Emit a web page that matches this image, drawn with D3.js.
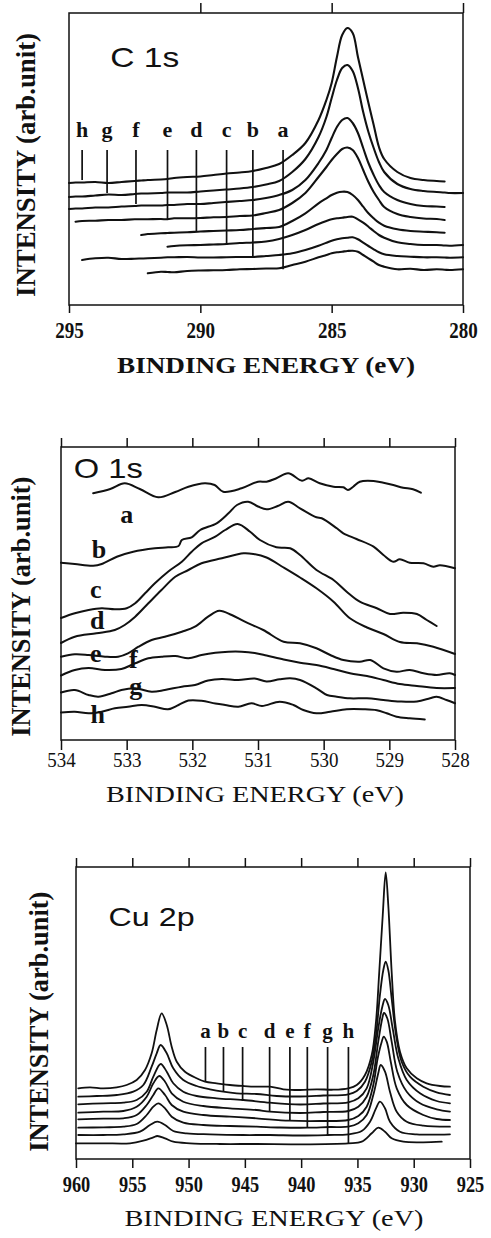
<!DOCTYPE html>
<html>
<head>
<meta charset="utf-8">
<script src="https://cdn.jsdelivr.net/npm/d3@7"></script>
<style>
  html, body { margin: 0; padding: 0; background: #fff; }
  svg { display: block; }
</style>
</head>
<body>
<svg id="fig" width="491" height="1238"></svg>
<script>
// ---------------- C 1s spectra (binding energy in eV, intensity in arb. units) ----------------
const c1sTicks = [295, 290, 285, 280];
const c1sEnergy = [295, 294.75, 294.5, 294, 293.5, 293, 292.5, 292.25, 292, 291.5, 291.25, 291, 290.5, 290,
  289.5, 289, 288.5, 288, 287.5, 287, 286.5, 286, 285.5, 285.2, 285, 284.8, 284.6, 284.4, 284.2, 284,
  283.8, 283.6, 283.4, 283.2, 283, 282.5, 282, 281.5, 281, 280.7, 280.5, 280];
const c1sA = [null, null, null, null, null, null, null, null, 31.7, 33.3, 33, 32.7, 34, 34.5, 34.7, 35, 35.7, 36, 36.5, 36.7,
  40, 43.3, 47.7, 50, 51.7, 52.7, 53.3, 54, 54.3, 53.3, 50, 46.7, 43.3, 40, 38.3, 35.7, 36.3, 35, 35.7, 35.3, 35, 35.7];
const c1sB = [null, null, 45, 46.7, 47.3, 46, 46.3, 46.5, 46.7, 47.3, 47.7, 47.7, 48, 47.5, 47.5, 47.8, 48, 48, 49, 50,
  51.7, 55, 59.3, 62.3, 64.3, 65.7, 66.7, 67.3, 67.7, 65.7, 62.3, 59, 55.7, 52.7, 50.7, 49, 48.3, 47.7, 47.7, 47.5, 47.3, 47.7];
const c1sC = [null, null, null, null, null, null, null, null, null, null, 58.3, 59, 59.7, 60, 60.5, 61, 62, 62.5, 63.5, 66,
  70, 75, 81, 84, 85.7, 86.7, 87.3, 88, 88.3, 85.7, 82.3, 78.3, 74, 70, 67.3, 62.7, 61, 60, 60, 59.5, 59.3, 60];
const c1sD = [null, null, null, null, null, null, null, 70, 71, 71.7, 72, 72.3, 72.7, 73.5, 74, 74.5, 75, 76, 77, 78,
  84, 91.7, 101.7, 106.7, 110, 112.3, 113.3, 113, 110, 105, 98.3, 91.7, 86.7, 82.3, 79.3, 75.7, 74, 73.3, 72.7, 72.3, null, null];
const c1sE = [null, 83.3, 84, 84.3, 85, 85, 85.7, 85.7, 85.7, 86, 85.7, 86.7, 86.7, 87, 87.7, 88, 89, 89.5, 92, 95,
  102, 112, 128, 138, 145, 151, 156, 157.5, 155, 147, 135, 123, 113, 105, 98, 91, 88, 86.5, 86, 85, null, null];
const c1sF = [96, 96.5, 96.5, 97.5, 97.5, 98.5, 99, 99.5, 99.5, 99.5, 100, 100, 101, 101, 102, 103, 104, 105, 107, 110,
  115, 125, 142, 155, 167, 178, 185, 187, 182, 172, 157, 142, 130, 120, 113, 105, 101, 99, 98.5, 98, null, null];
const c1sG = [108, 108.5, 108.5, 109.5, 110.5, 110, 111, 111.5, 111.5, 112, 112.5, 112.5, 112.5, 113.5, 114.5, 115.5, 116.5, 118, 120.5, 124,
  133, 146, 168, 188, 207, 225, 237, 240, 234, 217, 193, 173, 157, 143, 133, 121, 116, 114, 113, 112.5, 112, 112];
const c1sH = [122, 122.5, 122.5, 123, 122, 123, 124, 124.5, 125, 125.5, 126, 127, 128, 128.5, 130, 131.5, 132.5, 134, 137, 141,
  150, 162, 185, 205, 222, 248, 270, 277, 272, 248, 225, 202, 180, 158, 146, 133, 127, 125, 124, 123.5, null, null];
const sampleNames = ["a", "b", "c", "d", "e", "f", "g", "h"];
const c1sMarkEnergy = [286.85, 288.0, 289.0, 290.15, 291.25, 292.45, 293.55, 294.5];
const c1sMarkEnd = [35.7, 47.7, 60.5, 73.3, 85, 101, 112, 125];

// ---------------- O 1s spectra: [binding energy, intensity] ----------------
const o1sTicks = [534, 533, 532, 531, 530, 529, 528];
const o1sA = [[533.51,246.7],[533.25,251],[533.03,256.7],[532.8,251],[532.52,242.7],[532.26,248],[532.06,253.3],[531.81,256.7],
  [531.66,255],[531.53,248.3],[531.25,251.7],[531.0,258.3],[530.87,258.3],[530.72,261.7],[530.54,266.7],[530.33,259.3],
  [530.23,261.7],[530.06,256.7],[529.85,253.3],[529.7,252.7],[529.63,250],[529.55,253.3],[529.45,258.3],[529.24,259],
  [529.09,257.3],[528.94,255],[528.79,252.3],[528.64,250.7],[528.52,247.3]];
const o1sB = [[534.0,177.3],[533.79,176],[533.51,174.3],[533.38,176],[533.15,183.3],[532.9,188.3],[532.57,191.7],[532.37,192.7],
  [532.21,194],[532.16,200],[532.01,202.7],[531.88,210],[531.63,216.7],[531.45,226.7],[531.32,235],[531.15,238.3],
  [531.0,233.5],[530.87,230.7],[530.7,234],[530.54,238.3],[530.36,231.7],[530.11,222.7],[530.03,221.7],[529.8,211.7],
  [529.7,206.7],[529.5,201],[529.24,193.3],[529.09,185],[528.94,178.3],[528.84,180.7],[528.69,177.3],[528.48,176.7],
  [528.33,173.3],[528.23,174.7],[528.0,171.7]];
const o1sC = [[534.0,122],[533.79,126.7],[533.58,130],[533.38,131.7],[533.18,130.7],[533.0,131.7],[532.87,136.7],[532.72,146.7],
  [532.57,156.7],[532.37,168.3],[532.16,178.3],[532.01,188.3],[531.86,196.7],[531.65,203.3],[531.5,210],[531.31,216],
  [531.12,208.3],[530.97,200],[530.72,192.7],[530.51,191.7],[530.36,185],[530.11,170],[529.85,160],[529.65,148.3],
  [529.45,138.3],[529.19,131.7],[528.99,126],[528.79,127.3],[528.58,126],[528.43,120],[528.28,114]];
const o1sD = [[534.0,97],[533.79,103.3],[533.46,106.7],[533.18,110],[533.03,115],[532.87,123.3],[532.67,136.7],[532.47,150],
  [532.26,163.3],[532.06,170],[531.86,176.7],[531.55,181.7],[531.22,186.7],[531.07,186],[530.87,182.5],[530.61,172.5],
  [530.36,162.5],[530.11,151.7],[529.85,138.3],[529.6,121.7],[529.34,112.5],[529.09,106],[528.84,98],[528.58,96.7],
  [528.33,93.3],[528.0,86]];
const o1sE = [[534.0,83.3],[533.79,85.7],[533.58,85],[533.33,83.3],[533.13,83.3],[532.98,86.7],[532.82,93.3],[532.62,100],
  [532.42,103.3],[532.16,108.3],[531.96,113.3],[531.76,123.3],[531.59,129.3],[531.4,125],[531.2,118.3],[530.92,110],
  [530.61,98.3],[530.36,96.7],[530.11,91.7],[529.9,85],[529.7,80],[529.45,78.3],[529.29,80],[529.09,71.7],[528.89,68.3],
  [528.69,70],[528.48,66.7],[528.28,65],[528.08,66.7],[528.0,65]];
const o1sF = [[534.0,64.5],[533.79,70],[533.58,72],[533.33,70],[533.08,71],[532.87,76.7],[532.67,81.7],[532.47,83.3],
  [532.26,84],[532.06,81.7],[531.86,85],[531.65,87.3],[531.45,88.3],[531.25,88.3],[531.05,87],[530.87,84.5],[530.61,80.5],
  [530.36,77.3],[530.11,75],[529.85,71],[529.6,66.7],[529.34,64],[529.09,60],[528.84,56],[528.58,54],[528.28,52],[528.0,52]];
const o1sG = [[534.0,47.5],[533.79,50],[533.58,45],[533.43,43.3],[533.23,46.7],[533.08,50],[532.87,51.7],[532.62,48.3],
  [532.42,50],[532.16,53.3],[531.96,55],[531.76,59.5],[531.55,61],[531.3,60],[531.05,61.5],[530.87,58.5],[530.67,60.7],
  [530.51,61.7],[530.36,60],[530.11,51.7],[529.95,45],[529.8,43.3],[529.6,41.7],[529.34,41.7],[529.09,40],[528.84,38.5],
  [528.58,38.5],[528.38,41.7],[528.28,43.3],[528.13,40],[528.0,36.7]];
const o1sH = [[534.0,27.5],[533.79,28.3],[533.58,26.7],[533.38,28.3],[533.18,31.7],[532.98,33.3],[532.77,35],[532.57,33.3],
  [532.37,30.7],[532.21,35],[532.06,39.5],[531.86,39.3],[531.65,36.5],[531.5,35],[531.3,33.3],[531.1,36.7],[530.94,34],
  [530.67,38.3],[530.46,35],[530.31,30],[530.11,26.7],[529.9,28.3],[529.65,30.7],[529.4,30.7],[529.19,29.7],[529.04,26.7],
  [528.89,23.3],[528.69,21.7],[528.46,20.5]];
const o1sLabelEnergy = [533.0, 533.42, 533.47, 533.45, 533.47, 532.9, 532.86, 533.44];
const o1sLabelLevel = [216.7, 181.7, 141.7, 110.7, 78.3, 71.7, 45, 16.7];

// ---------------- Cu 2p spectra: [binding energy, intensity] ----------------
const cuTicks = [960, 955, 950, 945, 940, 935, 930, 925];
const cuA = [[959.8,70.7],[958.76,71.7],[957.57,70.7],[956.38,71.7],[955.5,74],[954.61,79],[953.87,89],[953.28,105.7],
  [952.83,129],[952.39,145.7],[951.94,134],[951.5,112.3],[951.05,97.3],[950.32,87.3],[949.28,80.7],[948.54,77.3],
  [947.5,75.7],[946.32,74],[945.14,73],[943.95,72.3],[942.77,72.3],[941.58,69.7],[940.1,69],[938.62,69.7],[937.14,69.3],
  [935.81,70.7],[935.06,74],[934.33,84],[933.73,104],[933.35,137.3],[933.06,187.3],[932.75,244],[932.49,286.7],
  [932.26,254],[931.96,187.3],[931.66,137.3],[931.22,107.3],[930.62,90.7],[929.73,80.7],[928.85,75.7],[927.66,73],[926.78,72.3]];
const cuB = [[959.8,62.3],[958.16,63],[956.38,64],[954.91,67.3],[954.02,74],[953.28,92.3],[952.83,105.7],[952.48,114],
  [951.94,105.7],[951.36,90.7],[950.47,79],[949.28,73],[948.1,69.7],[946.92,67.3],[945.72,65.7],[943.95,65],[942.17,63],
  [940.1,62.5],[938.03,63.5],[935.81,64.7],[935.06,68],[934.33,77.3],[933.73,97.3],[933.35,124],[933.0,164],[932.7,189],
  [932.49,197.3],[932.26,189],[931.96,160.7],[931.57,124],[931.07,97.3],[930.33,82.3],[929.15,72.3],[927.96,66.7],[926.78,64]];
const cuC = [[959.8,54.7],[957.57,55.7],[955.8,56.3],[954.61,59],[953.72,67.3],[953.13,82.3],[952.48,95],[951.94,87.3],
  [951.36,75.7],[950.47,67.3],[949.28,63],[947.5,60.7],[945.14,59],[942.77,56.3],[940.1,54.5],[938.03,55.5],[935.81,56.7],
  [934.92,60.7],[934.18,70.7],[933.59,97.3],[933.15,130.7],[932.79,152.3],[932.55,160],[932.26,154],[931.87,130.7],
  [931.37,100.7],[930.62,79],[929.44,65.7],[927.96,58],[926.78,55.7]];
const cuD = [[959.8,46.3],[957.57,47.3],[955.8,48],[954.61,52.3],[953.72,62.3],[953.13,75.7],[952.6,83],[952.09,77.3],
  [951.5,65.7],[950.47,57.3],[948.69,53],[946.32,50.7],[943.95,49],[942.77,47.3],[940.1,46],[938.03,47],[935.81,48],
  [934.92,52.3],[934.18,62.3],[933.59,84],[933.15,117.3],[932.79,140.7],[932.64,146],[932.35,140.7],[931.96,117.3],
  [931.46,87.3],[930.62,67.3],[929.44,55.7],[927.96,49.7],[926.78,47.3]];
const cuE = [[959.8,39.7],[957.57,40.3],[955.8,40.7],[954.61,44],[953.72,54],[953.13,64],[952.69,70.7],[952.09,64],
  [951.5,54],[950.47,47.3],[948.69,44],[946.32,42.3],[943.95,40.7],[941.05,38.3],[938.32,38],[935.81,39],[934.92,43],
  [934.18,52.3],[933.59,74],[933.2,100.7],[932.84,117.3],[932.67,122.3],[932.4,117.3],[932.04,97.3],[931.51,70.7],
  [930.62,54],[929.15,44],[927.96,40],[926.78,39]];
const cuF = [[959.8,31.3],[957.57,31.7],[955.8,32.3],[954.61,35],[953.72,44],[953.13,52.3],[952.69,55.7],[952.09,50.7],
  [951.5,42.3],[950.47,36.3],[948.69,34],[946.32,33],[943.95,32.3],[941.88,31.5],[939.45,31.3],[937.44,32],[935.81,32.3],
  [934.92,35.7],[934.18,44],[933.59,64],[933.15,85.7],[932.93,94],[932.55,87.3],[932.11,67.3],[931.51,47.3],[930.62,37.3],
  [929.15,33.3],[926.78,32.3]];
const cuG = [[959.8,24],[957.57,24],[955.8,24.7],[954.31,27.3],[953.43,34],[952.78,37.3],[952.09,34],[951.36,28],
  [950.17,25.7],[948.1,24.7],[945.14,24],[942.77,24],[940.1,23.5],[937.64,24],[935.81,24.7],[934.62,28],[933.88,37.3],
  [933.35,50.7],[933.0,57.3],[932.55,50.7],[932.11,37.3],[931.22,27.3],[929.73,24.7],[926.78,24.7]];
const cuH = [[960.0,15.7],[957.57,15.7],[955.2,15.7],[954.02,18.3],[953.13,21.7],[952.78,23],[952.09,20.7],[951.36,17.3],
  [949.87,15.7],[947.21,15],[943.95,15],[940.1,14.7],[935.81,15.7],[934.62,17.3],[933.73,25.7],[933.15,31.3],[932.55,27.3],
  [931.96,20.7],[930.92,17.3],[929.15,16.7],[927.51,17.3]];
const cuMarkEnergy = [948.5, 946.9, 945.2, 942.8, 941.0, 939.45, 937.65, 935.8];
const cuMarkEnd = [77, 67.3, 58, 47, 38.3, 31.3, 24, 15.7];

// ---------------- drawing ----------------
const svg = d3.select("#fig");
const SERIF = "'Liberation Serif','Times New Roman',Times,serif";
const SANS = "'Liberation Sans',Arial,Helvetica,sans-serif";
const INK = "#111";

function drawPanel(p) {
  const x = d3.scaleLinear().domain(p.xDomain).range([p.left, p.right]);
  const y = d3.scaleLinear().domain([0, p.bottom - p.top]).range([p.bottom, p.top]);
  const g = svg.append("g");

  const topAxis = g.append("g").attr("transform", `translate(0,${p.top})`)
    .call(d3.axisTop(x).tickValues(p.topTicks).tickSize(p.topTick).tickFormat(""));
  const bottomAxis = g.append("g").attr("transform", `translate(0,${p.bottom})`)
    .call(d3.axisBottom(x).tickValues(p.ticks).tickSize(p.bottomTick).tickFormat(d3.format("d")));
  [topAxis, bottomAxis].forEach(a => {
    a.select(".domain").remove();
    a.selectAll(".tick line").attr("stroke", INK).attr("stroke-width", 1.5);
  });
  bottomAxis.attr("font-family", SERIF).attr("font-size", p.tickFont).attr("font-weight", p.tickWeight);
  bottomAxis.selectAll(".tick text")
    .attr("y", p.tickBaseline).attr("dy", null).attr("fill", INK)
    .attr("textLength", p.tickLen).attr("lengthAdjust", "spacingAndGlyphs");

  g.append("rect")
    .attr("x", p.left).attr("y", p.top)
    .attr("width", p.right - p.left).attr("height", p.bottom - p.top)
    .attr("fill", "none").attr("stroke", INK).attr("stroke-width", 1.5);

  // x-axis title
  g.append("text")
    .attr("x", p.titleX).attr("y", p.titleY).attr("text-anchor", "middle")
    .attr("font-family", SERIF).attr("font-size", 24).attr("font-weight", p.titleWeight)
    .attr("fill", INK).attr("textLength", p.titleLen).attr("lengthAdjust", "spacingAndGlyphs")
    .text("BINDING ENERGY (eV)");

  // y-axis title
  g.append("text")
    .attr("transform", `translate(${p.yTitleX},${p.yTitleY}) rotate(-90)`)
    .attr("text-anchor", "middle")
    .attr("font-family", SERIF).attr("font-size", 28).attr("font-weight", "bold")
    .attr("fill", INK).attr("textLength", p.yTitleLen).attr("lengthAdjust", "spacingAndGlyphs")
    .text("INTENSITY (arb.unit)");

  // core level name
  g.append("text")
    .attr("x", p.nameX).attr("y", p.nameY)
    .attr("font-family", SANS).attr("font-size", p.nameFont)
    .attr("fill", INK).attr("textLength", p.nameLen).attr("lengthAdjust", "spacingAndGlyphs")
    .text(p.name);

  return { g, x, y };
}

function spectrumLine(x, y) {
  return d3.line()
    .defined(d => d[1] != null)
    .x(d => x(d[0]))
    .y(d => y(d[1]))
    .curve(d3.curveCatmullRom.alpha(0.5));
}

function drawSpectra(panel, series, width) {
  const line = spectrumLine(panel.x, panel.y);
  panel.g.append("g").selectAll("path").data(series).join("path")
    .attr("d", line)
    .attr("fill", "none").attr("stroke", INK)
    .attr("stroke-width", width).attr("stroke-linejoin", "round").attr("stroke-linecap", "round");
}

function drawMarkers(panel, energies, ends, topLevel, labelLevel, font) {
  const mk = panel.g.append("g");
  mk.selectAll("line").data(energies).join("line")
    .attr("x1", d => panel.x(d)).attr("x2", d => panel.x(d))
    .attr("y1", panel.y(topLevel)).attr("y2", (d, i) => panel.y(ends[i]))
    .attr("stroke", INK).attr("stroke-width", 1.7);
  mk.selectAll("text").data(energies).join("text")
    .attr("x", d => panel.x(d)).attr("y", panel.y(labelLevel))
    .attr("text-anchor", "middle")
    .attr("font-family", SERIF).attr("font-size", font).attr("font-weight", "bold")
    .attr("fill", INK)
    .text((d, i) => sampleNames[i]);
}

// ---- C 1s ----
const c1s = drawPanel({
  xDomain: [295, 280], left: 69, right: 463, top: 13, bottom: 305,
  ticks: c1sTicks, topTicks: [290, 285, 280], topTick: 10, bottomTick: 8,
  tickFont: 24, tickWeight: "bold", tickBaseline: 33.3, tickLen: 28.5,
  titleX: 266, titleY: 373, titleLen: 298, titleWeight: "bold",
  yTitleX: 35, yTitleY: 165, yTitleLen: 264,
  name: "C 1s", nameX: 110.3, nameY: 66.7, nameFont: 28, nameLen: 69
});
const c1sSeries = [c1sA, c1sB, c1sC, c1sD, c1sE, c1sF, c1sG, c1sH]
  .map(vals => c1sEnergy.map((e, i) => [e, vals[i]]));
drawSpectra(c1s, c1sSeries, 2.1);
drawMarkers(c1s, c1sMarkEnergy, c1sMarkEnd, 155, 168.3, 22);

// ---- O 1s ----
const o1s = drawPanel({
  xDomain: [534, 528], left: 61, right: 455, top: 447, bottom: 740,
  ticks: o1sTicks, topTicks: o1sTicks, topTick: 9, bottomTick: 10,
  tickFont: 22, tickWeight: "normal", tickBaseline: 26.7, tickLen: 28.5,
  titleX: 255, titleY: 801.7, titleLen: 298, titleWeight: "normal",
  yTitleX: 30, yTitleY: 606.7, yTitleLen: 260,
  name: "O 1s", nameX: 73.8, nameY: 478.3, nameFont: 28, nameLen: 69
});
drawSpectra(o1s, [o1sA, o1sB, o1sC, o1sD, o1sE, o1sF, o1sG, o1sH], 2.0);
o1s.g.append("g").selectAll("text").data(o1sLabelEnergy).join("text")
  .attr("x", d => o1s.x(d)).attr("y", (d, i) => o1s.y(o1sLabelLevel[i]))
  .attr("text-anchor", "middle")
  .attr("font-family", SERIF).attr("font-size", 26).attr("font-weight", "bold")
  .attr("fill", INK)
  .text((d, i) => sampleNames[i]);

// ---- Cu 2p ----
const cu = drawPanel({
  xDomain: [960, 925], left: 76, right: 470, top: 867, bottom: 1159,
  ticks: cuTicks, topTicks: cuTicks, topTick: 9, bottomTick: 9,
  tickFont: 24, tickWeight: "bold", tickBaseline: 32.7, tickLen: 27.5,
  titleX: 274, titleY: 1226, titleLen: 299, titleWeight: "normal",
  yTitleX: 48, yTitleY: 1021.7, yTitleLen: 260,
  name: "Cu 2p", nameX: 108.6, nameY: 925.5, nameFont: 25, nameLen: 86
});
drawSpectra(cu, [cuA, cuB, cuC, cuD, cuE, cuF, cuG, cuH], 1.8);
drawMarkers(cu, cuMarkEnergy, cuMarkEnd, 112, 120.7, 21);
</script>
</body>
</html>
